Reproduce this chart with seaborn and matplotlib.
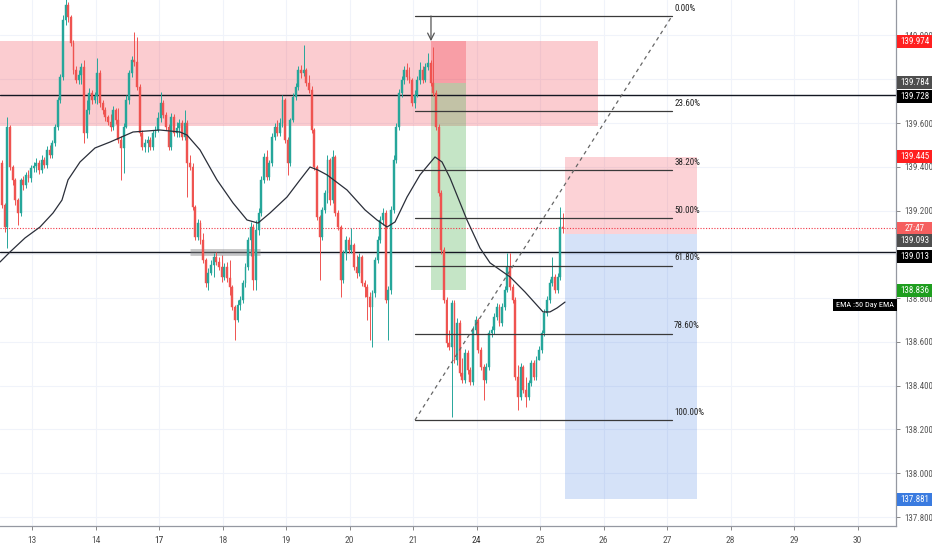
import os
import numpy as np
import pandas as pd
import matplotlib
matplotlib.use("Agg")
import matplotlib.pyplot as plt
from matplotlib import font_manager
from matplotlib.font_manager import FontProperties
from matplotlib.textpath import TextPath
from matplotlib.patches import Rectangle
import matplotlib.transforms as mtransforms
import seaborn as sns

# ---------------- data ----------------
day_labels = ['13', '14', '17', '18', '19', '20', '21', '24', '25', '26', '27', '28', '29', '30']
bold_days = ['17', '24']

first_open = 139.417
first_candle_day = -0.472   # trading-day index of first hourly candle
candles_per_day = 24

closes = [
    139.226, 139.125, 139.582, 139.399, 139.340, 139.248, 139.189, 139.340, 139.317, 139.363,
    139.349, 139.395, 139.404, 139.417, 139.385, 139.431, 139.408, 139.477, 139.454, 139.509,
    139.582, 139.705, 139.810, 140.071, 140.139, 140.084, 139.966, 139.842, 139.797, 139.819,
    139.856, 139.554, 139.660, 139.737, 139.705, 139.723, 139.829, 139.691, 139.660, 139.628,
    139.605, 139.582, 139.660, 139.614, 139.522, 139.486, 139.582, 139.705, 139.829, 139.888,
    139.879, 139.765, 139.554, 139.491, 139.509, 139.522, 139.491, 139.554, 139.568, 139.623,
    139.691, 139.637, 139.582, 139.491, 139.628, 139.554, 139.577, 139.600, 139.536, 139.600,
    139.417, 139.399, 139.216, 139.079, 139.143, 139.066, 138.974, 138.869, 138.915, 138.951,
    138.988, 138.965, 138.942, 138.897, 138.942, 138.892, 138.851, 138.760, 138.700, 138.769,
    138.792, 138.869, 138.942, 139.066, 139.125, 138.883, 139.111, 139.189, 139.340, 139.445,
    139.353, 139.417, 139.536, 139.582, 139.554, 139.600, 139.705, 139.522, 139.417, 139.614,
    139.719, 139.765, 139.842, 139.829, 139.842, 139.783, 139.751, 139.568, 139.399, 139.171,
    139.079, 139.203, 139.280, 139.431, 139.248, 139.445, 139.189, 139.125, 138.883, 139.006,
    139.066, 139.020, 139.043, 138.942, 138.915, 138.988, 138.869, 138.851, 138.805, 138.760,
    138.824, 138.974, 139.066, 139.157, 139.189, 138.792, 138.837, 139.203, 139.431, 139.582,
    139.737, 139.797, 139.842, 139.810, 139.797, 139.691, 139.728, 139.797, 139.842, 139.797,
    139.856, 139.874, 139.783, 139.737, 139.582, 139.280, 139.020, 138.792, 138.595, 138.577,
    138.778, 138.518, 138.687, 138.458, 138.426, 138.549, 138.472, 138.417, 138.655, 138.700,
    138.563, 138.486, 138.426, 138.486, 138.641, 138.655, 138.714, 138.760, 138.687, 138.760,
    138.837, 138.942, 138.851, 138.792, 138.440, 138.348, 138.486, 138.380, 138.348, 138.412,
    138.504, 138.440, 138.518, 138.563, 138.641, 138.732, 138.792, 138.869, 138.897, 138.837,
    138.897, 139.125, 139.120,
]
highs = [
    139.431, 139.235, 139.628, 139.591, 139.408, 139.349, 139.258, 139.349, 139.358, 139.376,
    139.385, 139.408, 139.422, 139.440, 139.431, 139.454, 139.445, 139.495, 139.500, 139.522,
    139.596, 139.719, 139.824, 140.093, 140.170, 140.153, 140.093, 139.979, 139.861, 139.842,
    139.874, 139.888, 139.705, 139.760, 139.751, 139.742, 139.897, 139.842, 139.705, 139.673,
    139.637, 139.641, 139.678, 139.669, 139.669, 139.541, 139.600, 139.728, 139.842, 139.906,
    140.016, 139.993, 139.778, 139.568, 139.527, 139.541, 139.536, 139.568, 139.586, 139.650,
    139.742, 139.705, 139.650, 139.596, 139.646, 139.641, 139.605, 139.618, 139.614, 139.660,
    139.614, 139.454, 139.417, 139.226, 139.162, 139.157, 139.098, 138.983, 138.938, 138.974,
    139.006, 139.011, 138.988, 138.997, 138.961, 138.965, 138.974, 138.860, 138.769, 138.792,
    138.810, 138.883, 138.961, 139.079, 139.148, 139.139, 139.157, 139.212, 139.358, 139.463,
    139.477, 139.431, 139.554, 139.600, 139.614, 139.623, 139.728, 139.714, 139.536, 139.623,
    139.737, 139.783, 139.861, 139.865, 139.956, 139.851, 139.819, 139.769, 139.577, 139.408,
    139.180, 139.216, 139.294, 139.454, 139.440, 139.477, 139.454, 139.203, 139.134, 139.020,
    139.084, 139.079, 139.120, 139.052, 138.997, 139.006, 138.997, 138.883, 138.865, 138.828,
    138.837, 138.988, 139.084, 139.175, 139.212, 139.203, 138.856, 139.221, 139.454, 139.600,
    139.755, 139.815, 139.861, 139.874, 139.856, 139.806, 139.751, 139.815, 139.879, 139.861,
    139.874, 139.920, 139.888, 139.947, 139.751, 139.596, 139.294, 139.034, 138.805, 138.655,
    138.792, 138.792, 138.709, 138.700, 138.527, 138.568, 138.563, 138.486, 138.673, 138.719,
    138.709, 138.577, 138.499, 138.504, 138.655, 138.673, 138.732, 138.778, 138.773, 138.778,
    138.856, 139.006, 139.006, 138.865, 138.805, 138.495, 138.504, 138.495, 138.440, 138.426,
    138.518, 138.518, 138.536, 138.581, 138.655, 138.750, 138.810, 138.888, 138.988, 138.910,
    138.915, 139.216, 139.189,
]
lows = [
    139.212, 139.102, 139.029, 139.385, 139.317, 139.226, 139.134, 139.175, 139.294, 139.303,
    139.331, 139.331, 139.376, 139.376, 139.367, 139.372, 139.395, 139.395, 139.440, 139.440,
    139.495, 139.568, 139.691, 139.797, 140.048, 140.062, 139.952, 139.824, 139.783, 139.778,
    139.778, 139.509, 139.532, 139.641, 139.687, 139.691, 139.687, 139.673, 139.641, 139.609,
    139.591, 139.564, 139.568, 139.596, 139.509, 139.340, 139.372, 139.577, 139.687, 139.810,
    139.861, 139.751, 139.541, 139.477, 139.468, 139.468, 139.477, 139.477, 139.536, 139.559,
    139.605, 139.623, 139.568, 139.477, 139.477, 139.541, 139.536, 139.536, 139.522, 139.522,
    139.262, 139.385, 139.203, 139.066, 139.066, 139.047, 138.961, 138.851, 138.837, 138.906,
    138.897, 138.951, 138.929, 138.874, 138.883, 138.874, 138.814, 138.746, 138.609, 138.691,
    138.746, 138.778, 138.851, 138.929, 138.993, 138.837, 138.837, 139.089, 139.175, 139.326,
    139.340, 139.340, 139.404, 139.522, 139.541, 139.541, 139.582, 139.509, 139.363, 139.404,
    139.605, 139.705, 139.751, 139.806, 139.815, 139.769, 139.737, 139.554, 139.385, 139.157,
    138.883, 139.066, 139.189, 139.235, 139.226, 139.235, 139.175, 139.111, 138.805, 138.869,
    138.974, 139.006, 139.006, 138.929, 138.892, 138.901, 138.856, 138.805, 138.700, 138.609,
    138.577, 138.805, 138.961, 139.052, 139.134, 138.778, 138.609, 138.819, 139.189, 139.417,
    139.568, 139.719, 139.778, 139.797, 139.783, 139.678, 139.669, 139.719, 139.778, 139.783,
    139.787, 139.842, 139.769, 139.723, 139.568, 139.267, 139.002, 138.778, 138.577, 138.563,
    138.257, 138.504, 138.495, 138.444, 138.412, 138.412, 138.454, 138.403, 138.403, 138.636,
    138.549, 138.472, 138.335, 138.412, 138.472, 138.623, 138.636, 138.700, 138.673, 138.673,
    138.746, 138.828, 138.837, 138.778, 138.426, 138.289, 138.335, 138.367, 138.303, 138.335,
    138.399, 138.426, 138.426, 138.518, 138.549, 138.627, 138.719, 138.778, 138.856, 138.824,
    138.824, 138.883, 139.098,
]

ema_day = [-0.504, -0.346, -0.110, 0.126, 0.331, 0.472, 0.567, 0.756, 0.992, 1.228, 1.591,
           2.016, 2.331, 2.441, 2.646, 2.850, 2.913, 3.165, 3.386, 3.559, 3.748, 4.016, 4.220,
           4.378, 4.504, 4.646, 4.961, 5.244, 5.433, 5.591, 5.717, 5.906, 6.110, 6.346, 6.457,
           6.583, 6.850, 7.055, 7.213, 7.370, 7.528, 7.764, 8.047, 8.157, 8.268, 8.394]
ema_val = [138.965, 139.011, 139.075, 139.125, 139.189, 139.248, 139.340, 139.422, 139.486,
           139.513, 139.559, 139.568, 139.559, 139.545, 139.477, 139.372, 139.340, 139.235,
           139.157, 139.143, 139.189, 139.262, 139.340, 139.399, 139.385, 139.363, 139.294,
           139.203, 139.157, 139.125, 139.148, 139.262, 139.363, 139.445, 139.422, 139.349,
           139.157, 139.029, 138.961, 138.929, 138.897, 138.828, 138.737, 138.737, 138.755,
           138.782]

# drawings (time in trading-day index, price)
zone_days, zone_prices = (-1.0, 8.913), (139.586, 139.974)
hlines = [139.728, 139.013]
grey_mark_days, grey_mark_price = (2.488, 3.591), 139.013
short1_days, short1_entry, short1_stop, short1_target = (6.283, 6.835), 139.784, 139.974, 138.836
short2_days, short2_entry, short2_stop, short2_target = (8.394, 10.472), 139.093, 139.445, 137.881
fib_days, fib_high, fib_low = (6.031, 10.079), 140.089, 138.243
fib_levels = [0.0, 0.236, 0.382, 0.5, 0.618, 0.786, 1.0]
fib_labels = ['0.00%', '23.60%', '38.20%', '50.00%', '61.80%', '78.60%', '100.00%']
arrow_day = 6.283
price_ticks = [137.8, 138.0, 138.2, 138.4, 138.6, 138.8, 139.0, 139.2, 139.4, 139.6, 139.8, 140.0]
countdown = '27:47'

# ---------------- style ----------------
sns.set_theme(style='white')
plt.rcParams['font.family'] = ['DejaVu Sans']

# pick the installed sans font whose digits are closest to the reference's narrow look
TARGET_RATIO = 3.9   # width / digit height of "139.445" in the reference
ok_families = ('Liberation Sans', 'DejaVu Sans', 'Noto Sans', 'Roboto', 'Open Sans', 'Lato', 'Inter')
best = None
for f in font_manager.fontManager.ttflist:
    b = os.path.basename(f.fname).lower()
    if not f.name.startswith(ok_families):
        continue
    if any(k in f.name for k in ('Mono', 'CJK', 'Math', 'Symbol')):
        continue
    if f.style != 'normal' or any(k in b for k in ('bold', 'italic', 'light', 'thin', 'black',
                                                     'medium', 'semibold', 'oblique')):
        continue
    try:
        prop = FontProperties(fname=f.fname)
        ext = TextPath((0, 0), '139.445', size=10, prop=prop).get_extents()
        ext8 = TextPath((0, 0), '8', size=10, prop=prop).get_extents()
        ratio = ext.width / ext8.height
    except Exception:
        continue
    score = abs(ratio - TARGET_RATIO)
    if best is None or score < best[0]:
        best = (score, f.fname, ext.width / 10.0, ext8.height / 10.0)

if best:
    base_fp = FontProperties(fname=best[1])
    w_per_pt = best[2]
else:
    base_fp = FontProperties(family='DejaVu Sans')
    w_per_pt = 4.0


def fp(size, weight=None):
    p = base_fp.copy()
    p.set_size(size)
    if weight:
        p.set_weight(weight)
    return p


# font size (points) so that a price label is ~28 px wide at 100 dpi
lab_fs = min(8.5, 28.0 / (w_per_pt * 100 / 72))

UP, DOWN = '#26a69a', '#ef5350'

fig = plt.figure(figsize=(9.32, 5.5), dpi=100)
ax = fig.add_axes([0, 24 / 550, 896 / 932, 526 / 550])
ax.set_facecolor('white')
YLIM = (137.759, 140.162)
ax.set_xlim(-0.504, 13.606)
ax.set_ylim(*YLIM)
px_to_price = (YLIM[1] - YLIM[0]) / 526.0

n = len(closes)
df = pd.DataFrame({'close': closes, 'high': highs, 'low': lows})
df['open'] = [first_open] + closes[:-1]
df['x'] = first_candle_day + np.arange(n) / candles_per_day
df['high'] = df[['high', 'open', 'close']].max(axis=1)
df['low'] = df[['low', 'open', 'close']].min(axis=1)
df['color'] = np.where(df['close'] >= df['open'], UP, DOWN)
step = 1 / candles_per_day

# grid
for t in price_ticks:
    ax.axhline(t, color='#f0f3fa', lw=0.8, zorder=0)
for d in range(len(day_labels)):
    ax.axvline(d, color='#f0f3fa', lw=0.8, zorder=0)

# zone and positions
ax.fill_between(zone_days, zone_prices[0], zone_prices[1], color='#f23645', alpha=0.25, lw=0, zorder=1)
ax.fill_between(short1_days, short1_entry, short1_stop, color='#f23645', alpha=0.3, lw=0, zorder=1)
ax.fill_between(short1_days, short1_target, short1_entry, color='#4caf50', alpha=0.32, lw=0, zorder=1)
ax.fill_between(short2_days, short2_entry, short2_stop, color='#f23645', alpha=0.22, lw=0, zorder=1)
ax.fill_between(short2_days, short2_target, short2_entry, color='#2f6fe0', alpha=0.2, lw=0, zorder=1)

# horizontal lines
for h in hlines:
    ax.axhline(h, color='#131722', lw=1.0, zorder=2)
ax.plot(grey_mark_days, [grey_mark_price] * 2, color='#8a8a8a', alpha=0.45, lw=5,
        solid_capstyle='butt', zorder=2)

# candles
ax.vlines(df['x'], df['low'], df['high'], colors=df['color'], lw=0.7, zorder=3)
ax.bar(df['x'], df['close'] - df['open'], bottom=df['open'], width=step * 0.72,
       color=df['color'], edgecolor=df['color'], linewidth=0.3, zorder=4)

# EMA
ema_df = pd.DataFrame({'day': ema_day, 'ema': ema_val})
sns.lineplot(data=ema_df, x='day', y='ema', color='#2a2e39', lw=0.9, ax=ax, zorder=5, sort=True)

# current price line
last = closes[-1]
ax.axhline(last, color='#f23645', lw=0.8, ls=(0, (1, 1.5)), zorder=2)

# fibonacci
rng = fib_high - fib_low
for lv, lab in zip(fib_levels, fib_labels):
    p = fib_high - lv * rng
    ax.plot(fib_days, [p, p], color='#3a3a3a', lw=0.9, zorder=6)
    ax.annotate(lab, xy=(fib_days[1], p), xytext=(1.5, 2.5), textcoords='offset points',
                ha='left', va='bottom', fontproperties=fp(lab_fs * 1.0), color='#222', zorder=7)
ax.plot(fib_days, [fib_low, fib_high], color='#666', lw=0.9, ls=(0, (3, 3)), zorder=6)
ax.annotate('', xy=(arrow_day, zone_prices[1]), xytext=(arrow_day, fib_high),
            arrowprops=dict(arrowstyle='->', color='#555', lw=0.9, shrinkA=0, shrinkB=0), zorder=7)

# axes
ax.set_xlabel('')
ax.set_ylabel('')
ax.set_xticks(range(len(day_labels)))
ax.set_xticklabels(day_labels)
for tl in ax.get_xticklabels():
    if tl.get_text() in bold_days:
        tl.set_fontproperties(fp(lab_fs * 1.05, 'bold'))
        tl.set_color('#333')
    else:
        tl.set_fontproperties(fp(lab_fs * 1.05))
        tl.set_color('#555')
ax.yaxis.tick_right()
ax.set_yticks(price_ticks)
ax.set_yticklabels([f'{t:.3f}' for t in price_ticks])
for tl in ax.get_yticklabels():
    tl.set_fontproperties(fp(lab_fs))
    tl.set_color('#555')
ax.tick_params(axis='y', which='both', right=True, left=False, direction='out', length=3,
               width=0.7, color='#888', pad=3)
ax.tick_params(axis='x', which='both', bottom=True, direction='out', length=3, width=0.7,
               color='#888', pad=4)
for s in ['top', 'left']:
    ax.spines[s].set_visible(False)
for s in ['right', 'bottom']:
    ax.spines[s].set_color('#9598a1')
    ax.spines[s].set_linewidth(0.9)

# right price labels: filled boxes spanning the whole price-scale width
labels = [
    (139.974, '139.974', '#ff2020', 0),
    (139.784, '139.784', '#4e4e4e', 0),
    (139.728, '139.728', '#000000', 2),
    (139.445, '139.445', '#ff2020', 0),
    (last, countdown, '#f55f5f', 0),
    (139.093, '139.093', '#4e4e4e', 7),
    (139.013, '139.013', '#000000', 5),
    (138.836, '138.836', '#1f9e1f', 0),
    (137.881, '137.881', '#3a7be0', 0),
]
btrans = mtransforms.blended_transform_factory(ax.transAxes, ax.transData)
x_left = 1.0 + 1.0 / 896
x_right = 932.0 / 896
box_h = 13 * px_to_price
for val, txt, col, off in labels:
    yc = val - off * px_to_price
    ax.add_patch(Rectangle((x_left, yc - box_h / 2), x_right - x_left, box_h, transform=btrans,
                           facecolor=col, edgecolor='none', clip_on=False, zorder=19))
    ax.text((x_left + x_right) / 2, yc, txt, transform=btrans, ha='center', va='center',
            fontproperties=fp(lab_fs), color='white', clip_on=False, zorder=20)

# EMA label
ax.annotate('EMA :50 Day EMA', xy=(1, ema_val[-1]), xycoords=('axes fraction', 'data'),
            xytext=(-1.5, -2), textcoords='offset points', ha='right', va='center',
            fontproperties=fp(lab_fs * 0.92), color='white', zorder=20,
            bbox=dict(boxstyle='square,pad=0.35', fc='black', ec='none'))

fig.savefig('out.png', dpi=100, facecolor='white')
